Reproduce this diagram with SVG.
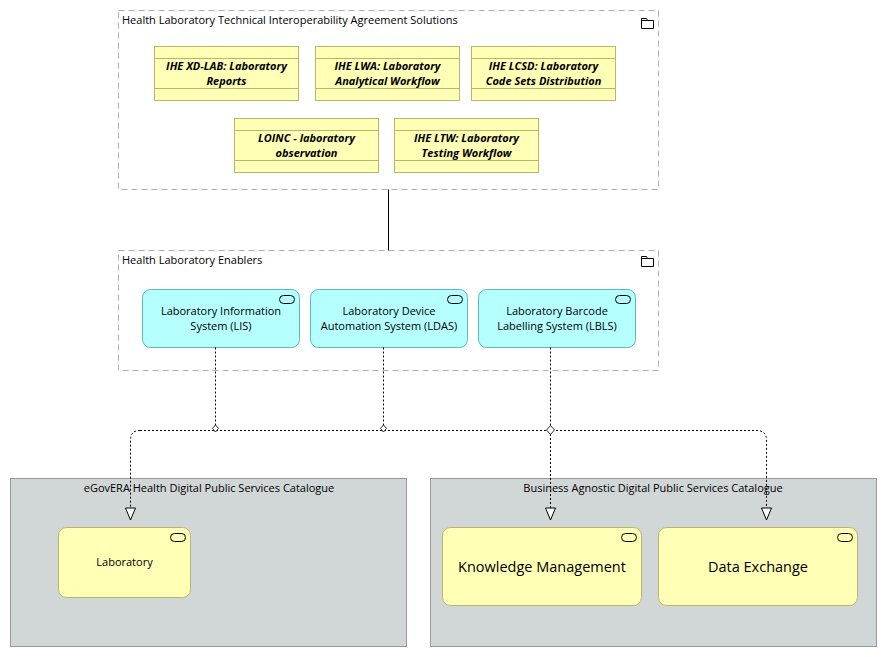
<svg xmlns="http://www.w3.org/2000/svg" width="885" height="657" viewBox="0 0 885 657">
<style>
text{font-family:"Open Sans","Liberation Sans",sans-serif;font-size:11px;fill:#000}
.grp{fill:#fff;stroke:#b0b0b0;stroke-dasharray:6,4}
.std{fill:#ffffb5;stroke:#b9b56a}
.bi{font-weight:bold;font-style:italic}
.app{fill:#b5ffff;stroke:#5cb8c0}
.svc{fill:#ffffb5;stroke:#b9b56a}
.cat{fill:#d1d6d7;stroke:#999}
.dot{fill:none;stroke:#000;stroke-dasharray:2,2}
.ic{fill:none;stroke:#000}
</style>
<defs>
<marker id="tri" markerWidth="14" markerHeight="12" refX="13" refY="6" orient="auto" markerUnits="userSpaceOnUse">
<path d="M1,1 L13,6 L1,11 Z" fill="#fff" stroke="#000"/>
</marker>
</defs>
<g id="g-tia">
<rect class="grp" x="118.5" y="10.5" width="540" height="179"/>
<text x="122" y="24">Health Laboratory Technical Interoperability Agreement Solutions</text>
<path class="ic" d="M641.5,18.5h5l1,2h6v8h-12z M641.5,20.5h6"/>
</g>
<g id="n1"><rect class="std" x="154.5" y="46.5" width="144" height="54"/><path class="std" d="M154.5,58.5h144M154.5,88.5h144"/>
<text class="bi" x="226.5" y="70" text-anchor="middle">IHE XD-LAB: Laboratory</text><text class="bi" x="226.5" y="85" text-anchor="middle">Reports</text></g>
<g id="n2"><rect class="std" x="315.5" y="46.5" width="144" height="54"/><path class="std" d="M315.5,58.5h144M315.5,88.5h144"/>
<text class="bi" x="387.5" y="70" text-anchor="middle">IHE LWA: Laboratory</text><text class="bi" x="387.5" y="85" text-anchor="middle">Analytical Workflow</text></g>
<g id="n3"><rect class="std" x="471.5" y="46.5" width="144" height="54"/><path class="std" d="M471.5,58.5h144M471.5,88.5h144"/>
<text class="bi" x="543.5" y="70" text-anchor="middle">IHE LCSD: Laboratory</text><text class="bi" x="543.5" y="85" text-anchor="middle">Code Sets Distribution</text></g>
<g id="n4"><rect class="std" x="234.5" y="118.5" width="144" height="54"/><path class="std" d="M234.5,130.5h144M234.5,160.5h144"/>
<text class="bi" x="306.5" y="142" text-anchor="middle">LOINC - laboratory</text><text class="bi" x="306.5" y="157" text-anchor="middle">observation</text></g>
<g id="n5"><rect class="std" x="394.5" y="118.5" width="144" height="54"/><path class="std" d="M394.5,130.5h144M394.5,160.5h144"/>
<text class="bi" x="466.5" y="142" text-anchor="middle">IHE LTW: Laboratory</text><text class="bi" x="466.5" y="157" text-anchor="middle">Testing Workflow</text></g>

<g id="g-en">
<rect class="grp" x="118.5" y="250.5" width="540" height="120"/>
<text x="122" y="264">Health Laboratory Enablers</text>
<path class="ic" d="M641.5,256.5h5l1,2h6v8h-12z M641.5,258.5h6"/>
</g>
<g id="lis"><rect class="app" x="142.5" y="289.5" width="157" height="58" rx="8"/><rect class="ic" x="279.5" y="295.5" width="15" height="8" rx="4"/>
<text x="221" y="315" text-anchor="middle">Laboratory Information</text><text x="221" y="330" text-anchor="middle">System (LIS)</text></g>
<g id="ldas"><rect class="app" x="310.5" y="289.5" width="157" height="58" rx="8"/><rect class="ic" x="447.5" y="295.5" width="15" height="8" rx="4"/>
<text x="389" y="315" text-anchor="middle">Laboratory Device</text><text x="389" y="330" text-anchor="middle">Automation System (LDAS)</text></g>
<g id="lbls"><rect class="app" x="478.5" y="289.5" width="157" height="58" rx="8"/><rect class="ic" x="615.5" y="295.5" width="15" height="8" rx="4"/>
<text x="557" y="315" text-anchor="middle">Laboratory Barcode</text><text x="557" y="330" text-anchor="middle">Labelling System (LBLS)</text></g>

<g id="c-egov">
<rect class="cat" x="10.5" y="478.5" width="396" height="168"/>
<text x="209" y="492" text-anchor="middle">eGovERA Health Digital Public Services Catalogue</text>
</g>
<g id="lab"><rect class="svc" x="58.5" y="527.5" width="132" height="70" rx="8"/><rect class="ic" x="170.5" y="533.5" width="15" height="8" rx="4"/>
<text x="124.5" y="566" text-anchor="middle">Laboratory</text></g>
<g id="c-ba">
<rect class="cat" x="430.5" y="478.5" width="446" height="168"/>
<text x="653" y="492" text-anchor="middle">Business Agnostic Digital Public Services Catalogue</text>
</g>
<g id="km"><rect class="svc" x="442.5" y="527.5" width="199" height="78" rx="8"/><rect class="ic" x="621.5" y="533.5" width="15" height="8" rx="4"/>
<text x="542" y="572" text-anchor="middle" style="font-size:14.5px">Knowledge Management</text></g>
<g id="dx"><rect class="svc" x="658.5" y="527.5" width="199" height="78" rx="8"/><rect class="ic" x="837.5" y="533.5" width="15" height="8" rx="4"/>
<text x="758" y="572" text-anchor="middle" style="font-size:14.5px">Data Exchange</text></g>

<g id="connectors">
<path d="M388.5,189.5V250.5" stroke="#000" fill="none"/>
<path class="dot" d="M215.5,347.5V426 M383.5,347.5V426 M550.5,347.5V426"/>
<path class="dot" d="M140,430.5H756 Q766.5,430.5 766.5,440V520" marker-end="url(#tri)"/>
<path class="dot" d="M140,430.5 Q130.5,430.5 130.5,440V520" marker-end="url(#tri)"/>
<path class="dot" d="M550.5,434V520" marker-end="url(#tri)"/>
<path d="M215.5,425l3,3.5l-3,3.5l-3,-3.5z M383.5,425l3,3.5l-3,3.5l-3,-3.5z M550.5,425.5l4,4.5l-4,4.5l-4,-4.5z" fill="#fff" stroke="#000" stroke-width="0.8"/>
</g>
</svg>
